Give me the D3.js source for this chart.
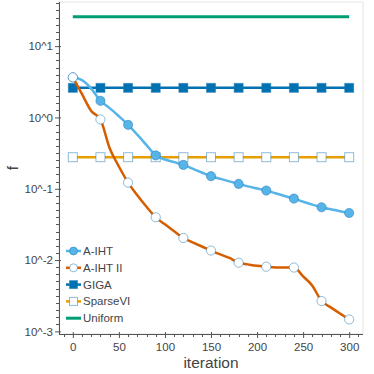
<!DOCTYPE html>
<html>
<head>
<meta charset="utf-8">
<script src="https://cdn.jsdelivr.net/npm/d3@7"></script>
<style>
  body { margin: 0; background: #fff; }
  svg text { font-family: "Liberation Sans", Arial, sans-serif; }
</style>
</head>
<body>
<div id="plot"></div>
<script>
// line data every 10 iterations, markers every 30
var iters = d3.range(0, 301, 10);
var markerIters = d3.range(0, 301, 30);

var aiht = [3.65, 3.34, 2.54, 1.71, 1.35, 1.04, 0.787, 0.573, 0.41, 0.293, 0.257,
            0.236, 0.216, 0.191, 0.169, 0.150, 0.138, 0.127, 0.117, 0.108, 0.101,
            0.0944, 0.0865, 0.0792, 0.0728, 0.0657, 0.0598, 0.0550, 0.0515, 0.0483, 0.0457];
var aiht2 = [3.65, 2.12, 1.23, 0.937, 0.37, 0.205, 0.122, 0.0811, 0.0559, 0.0398, 0.0317,
             0.0253, 0.0204, 0.0177, 0.0155, 0.0136, 0.0120, 0.0107, 0.00919, 0.00870, 0.00829,
             0.00807, 0.00789, 0.00789, 0.00785, 0.00590, 0.00437, 0.00266, 0.00217, 0.00178, 0.00147];
var giga = 2.60;
var sparsevi = 0.277;
var uniform = 25.9;

var yTicks = [10, 1, 0.1, 0.01, 0.001];
var yTickLabels = ["10^1", "10^0", "10^-1", "10^-2", "10^-3"];
var xTicks = [0, 50, 100, 150, 200, 250, 300];

var W = 374, H = 374;
var margin = {top: 2, right: 11, bottom: 40, left: 59};
var width = W - margin.left - margin.right,
    height = H - margin.top - margin.bottom;

var svg = d3.select("#plot").append("svg")
    .attr("width", W).attr("height", H)
  .append("g")
    .attr("transform", "translate(" + margin.left + "," + margin.top + ")");

var x = d3.scaleLinear().domain([-15, 315]).range([0, width]);
var y = d3.scaleLog().domain([Math.pow(10, -3.037), Math.pow(10, 1.619)]).range([height, 0]);

// frame
svg.append("rect")
    .attr("x", 0).attr("y", 0).attr("width", width).attr("height", height)
    .attr("fill", "none").attr("stroke", "#e5e5e5").attr("stroke-width", 1);

var axisColor = "#555", labelColor = "#444";

// minor ticks
var yMinor = [];
for (var e = -4; e <= 1; e++) {
  for (var k = 1; k < 10; k++) {
    var v = Math.pow(10, e + k / 10);
    if (v > y.domain()[0] && v < y.domain()[1]) yMinor.push(v);
  }
}
svg.append("g").selectAll("line").data(yMinor).enter().append("line")
    .attr("x1", -3).attr("x2", 0)
    .attr("y1", function(d) { return Math.round(y(d)) + 0.5; })
    .attr("y2", function(d) { return Math.round(y(d)) + 0.5; })
    .attr("stroke", axisColor).attr("stroke-width", 1);

var xMinor = d3.range(-10, 315, 10).filter(function(d) { return d % 50 !== 0; });
svg.append("g").selectAll("line").data(xMinor).enter().append("line")
    .attr("x1", function(d) { return Math.round(x(d)) + 0.5; })
    .attr("x2", function(d) { return Math.round(x(d)) + 0.5; })
    .attr("y1", height).attr("y2", height + 3)
    .attr("stroke", axisColor).attr("stroke-width", 1);

// y axis
var yAxis = svg.append("g")
    .call(d3.axisLeft(y).tickValues(yTicks).tickSize(4).tickPadding(2)
      .tickFormat(function(d, i) { return yTickLabels[i]; }));
yAxis.select(".domain").attr("stroke", axisColor).attr("d", "M0.5,0V" + height);
yAxis.selectAll(".tick line").attr("stroke", axisColor).attr("x2", -4).attr("x1", 2);
yAxis.selectAll("text").attr("fill", labelColor).style("font-size", "11.5px")
    .style("font-family", "Liberation Sans, Arial, sans-serif");

// x axis
var xAxis = svg.append("g")
    .attr("transform", "translate(0," + height + ")")
    .call(d3.axisBottom(x).tickValues(xTicks).tickSize(4).tickPadding(5));
xAxis.select(".domain").attr("stroke", axisColor).attr("d", "M0,0.5H" + width);
xAxis.selectAll(".tick line").attr("stroke", axisColor).attr("y1", -2).attr("y2", 4);
xAxis.selectAll("text").attr("fill", labelColor).style("font-size", "11.5px")
    .style("font-family", "Liberation Sans, Arial, sans-serif");

// axis labels
svg.append("text")
    .attr("x", width / 2).attr("y", height + 34)
    .attr("text-anchor", "middle")
    .attr("fill", labelColor)
    .style("font-size", "15.5px")
    .text("iteration");

svg.append("text")
    .attr("transform", "rotate(-90)")
    .attr("x", -height / 2).attr("y", -41)
    .attr("text-anchor", "middle")
    .attr("fill", labelColor)
    .style("font-size", "15.5px")
    .text("f");

var mkStroke = "#1f77b4", mkStrokeOp = 0.5;

var lineGen = d3.line()
    .x(function(d) { return x(d[0]); })
    .y(function(d) { return y(d[1]); })
    .curve(d3.curveMonotoneX);

function flat(v) { return iters.map(function(t) { return [t, v]; }); }
function pairs(arr) { return iters.map(function(t, i) { return [t, arr[i]]; }); }
function marks(arr) { return markerIters.map(function(t) { return [t, arr[iters.indexOf(t)]]; }); }

// Uniform
svg.append("path").datum(flat(uniform)).attr("d", lineGen)
    .attr("fill", "none").attr("stroke", "#009E73").attr("stroke-width", 3);

// SparseVI
svg.append("path").datum(flat(sparsevi)).attr("d", lineGen)
    .attr("fill", "none").attr("stroke", "#E69F00").attr("stroke-width", 2.5);
svg.append("g").selectAll("rect").data(markerIters).enter().append("rect")
    .attr("x", function(d) { return x(d) - 4.5; })
    .attr("y", y(sparsevi) - 4.5)
    .attr("width", 9).attr("height", 9)
    .attr("fill", "#fff").attr("stroke", mkStroke).attr("stroke-opacity", mkStrokeOp);

// GIGA
svg.append("path").datum(flat(giga)).attr("d", lineGen)
    .attr("fill", "none").attr("stroke", "#0072B2").attr("stroke-width", 2.5);
svg.append("g").selectAll("rect").data(markerIters).enter().append("rect")
    .attr("x", function(d) { return x(d) - 4.5; })
    .attr("y", y(giga) - 4.5)
    .attr("width", 9).attr("height", 9)
    .attr("fill", "#0072B2").attr("stroke", mkStroke).attr("stroke-opacity", mkStrokeOp);

// A-IHT
svg.append("path").datum(pairs(aiht)).attr("d", lineGen)
    .attr("fill", "none").attr("stroke", "#56B4E9").attr("stroke-width", 2.5);
svg.append("g").selectAll("circle").data(marks(aiht)).enter().append("circle")
    .attr("cx", function(d) { return x(d[0]); })
    .attr("cy", function(d) { return y(d[1]); })
    .attr("r", 4.6)
    .attr("fill", "#56B4E9").attr("stroke", mkStroke).attr("stroke-opacity", mkStrokeOp);

// A-IHT II
svg.append("path").datum(pairs(aiht2)).attr("d", lineGen)
    .attr("fill", "none").attr("stroke", "#D55E00").attr("stroke-width", 2.5);
svg.append("g").selectAll("circle").data(marks(aiht2)).enter().append("circle")
    .attr("cx", function(d) { return x(d[0]); })
    .attr("cy", function(d) { return y(d[1]); })
    .attr("r", 4.6)
    .attr("fill", "#fff").attr("stroke", mkStroke).attr("stroke-opacity", mkStrokeOp);

// legend
var legendItems = [
  {name: "A-IHT", color: "#56B4E9", marker: "circle", fill: "#56B4E9"},
  {name: "A-IHT II", color: "#D55E00", marker: "circle", fill: "#fff"},
  {name: "GIGA", color: "#0072B2", marker: "square", fill: "#0072B2"},
  {name: "SparseVI", color: "#E69F00", marker: "square", fill: "#fff"},
  {name: "Uniform", color: "#009E73", marker: null}
];
var legend = svg.append("g").attr("transform", "translate(7,249)");
legendItems.forEach(function(it, i) {
  var g = legend.append("g").attr("transform", "translate(0," + (i * 16.8) + ")");
  g.append("line").attr("x1", 0).attr("x2", 15).attr("y1", 0).attr("y2", 0)
      .attr("stroke", it.color).attr("stroke-width", it.marker ? 2.5 : 3);
  if (it.marker === "circle") {
    g.append("circle").attr("cx", 7.5).attr("cy", 0).attr("r", 4)
        .attr("fill", it.fill).attr("stroke", mkStroke).attr("stroke-opacity", mkStrokeOp);
  } else if (it.marker === "square") {
    g.append("rect").attr("x", 3.5).attr("y", -4).attr("width", 8).attr("height", 8)
        .attr("fill", it.fill).attr("stroke", mkStroke).attr("stroke-opacity", mkStrokeOp);
  }
  g.append("text").attr("x", 17).attr("y", 4)
      .attr("fill", labelColor).style("font-size", "11.5px")
      .text(it.name);
});
</script>
</body>
</html>
